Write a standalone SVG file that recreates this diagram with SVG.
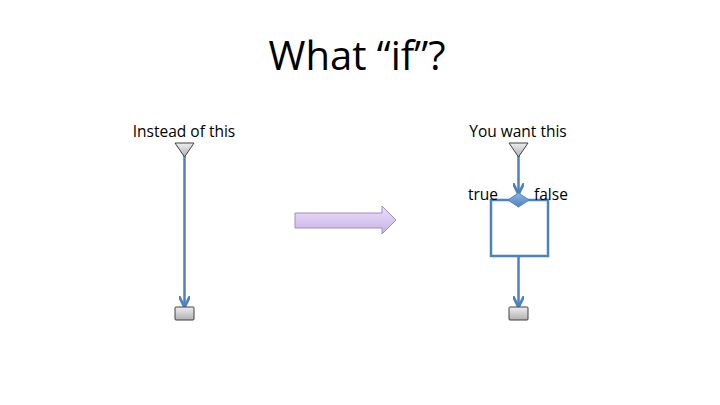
<svg xmlns="http://www.w3.org/2000/svg" width="720" height="405" viewBox="0 0 720 405">
<style>
text{font-family:"Open Sans","Liberation Sans",sans-serif;fill:#000}
.lbl{font-size:15.5px}
.flow{stroke:#4f81bd;stroke-width:2.5;fill:none}
.term{fill:url(#gray);stroke:#404040;stroke-width:1}
</style>
<defs>
<linearGradient id="gray" x1="0" y1="0" x2="0" y2="1"><stop offset="0" stop-color="#eeeeee"/><stop offset="1" stop-color="#b0b0b0"/></linearGradient>
<linearGradient id="purp" x1="0" y1="0" x2="0" y2="1"><stop offset="0" stop-color="#ebe0fa"/><stop offset="1" stop-color="#c7b2e6"/></linearGradient>
<linearGradient id="blue" x1="0" y1="0" x2="0" y2="1"><stop offset="0" stop-color="#8fb4e3"/><stop offset="1" stop-color="#4f81bd"/></linearGradient>
<marker id="ah" viewBox="0 0 10 10" refX="9" refY="5" markerWidth="4.5" markerHeight="4.5" orient="auto"><path d="M0,0 L10,5 L0,10" fill="none" stroke="#4f81bd" stroke-width="2.5"/></marker>
</defs>
<text x="357" y="70" font-size="40" text-anchor="middle">What “if”?</text>
<g id="connectors">
<line class="flow" x1="184.5" y1="156" x2="184.5" y2="306" marker-end="url(#ah)"/>
<line class="flow" x1="518.5" y1="156" x2="518.5" y2="193" marker-end="url(#ah)"/>
<polyline class="flow" points="510,200 491,200 491,256 548,256 548,200 527,200"/>
<line class="flow" x1="518.5" y1="256" x2="518.5" y2="306" marker-end="url(#ah)"/>
</g>
<g id="left-start"><text class="lbl" x="184" y="137" text-anchor="middle">Instead of this</text><polygon class="term" points="175,143 194,143 184.5,157"/></g>
<g id="left-end"><rect class="term" x="175" y="307" width="19" height="13" rx="1"/></g>
<g id="arrow"><polygon points="295,213 382,213 382,206 396,220 382,234 382,228 295,228" fill="url(#purp)" stroke="#a08cc4" stroke-width="1"/></g>
<g id="right-start"><text class="lbl" x="518" y="137" text-anchor="middle">You want this</text><polygon class="term" points="509,143 528,143 518.5,157"/></g>
<g id="decision"><polygon points="518.5,193 529,200 518.5,207 508,200" fill="url(#blue)" stroke="#4f81bd" stroke-width="1"/><text class="lbl" x="468" y="200">true</text><text class="lbl" x="534" y="200">false</text></g>
<g id="right-end"><rect class="term" x="509" y="307" width="19" height="13" rx="1"/></g>
</svg>
